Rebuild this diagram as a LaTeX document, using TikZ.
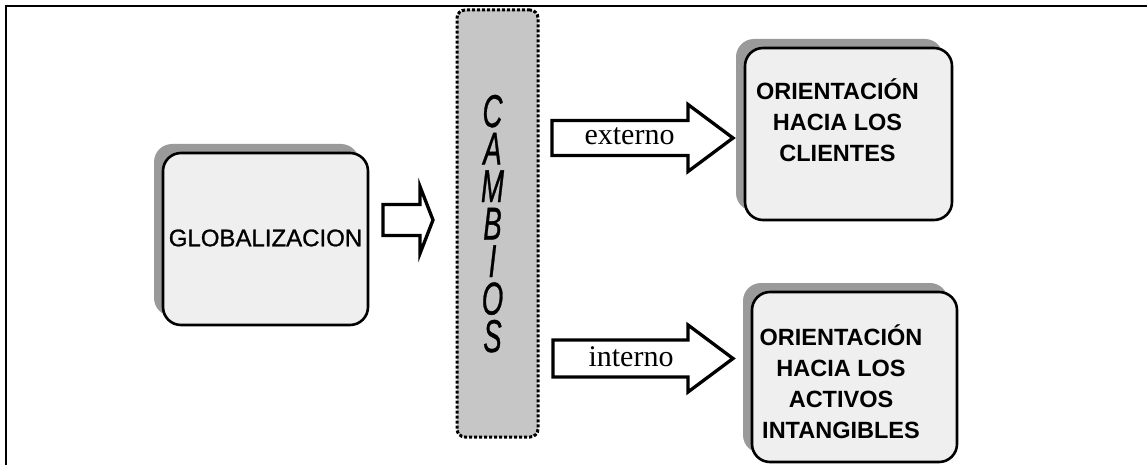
\documentclass[tikz,border=0pt]{standalone}
\usepackage{fontspec}
\setmainfont{Liberation Serif}
\newfontfamily\arialfont{Liberation Sans}
\newfontfamily\arialheavy{Liberation Sans}[FakeBold=1]
\usetikzlibrary{calc,shadows}

\definecolor{panelfill}{HTML}{EFEFEF}
\definecolor{shadowgray}{HTML}{9A9A9A}
\definecolor{bandfill}{HTML}{C6C6C6}

% hollow block arrow: start (body centre), tip, body half height, head half height, head length
\newcommand\blockarrow[5]{%
  \draw[blockarrowline] ($(#1)+(0,-#3)$) -- ($(#2)+(-#5,-#3)$) -- ($(#2)+(-#5,-#4)$)
    -- (#2) -- ($(#2)+(-#5,#4)$) -- ($(#2)+(-#5,#3)$) -- ($(#1)+(0,#3)$) -- cycle;}

\tikzset{
  panel/.style={draw=black, line width=2.6pt, fill=panelfill, rounded corners=18pt,
    general shadow={shadow xshift=-9pt, shadow yshift=9pt, fill=shadowgray}},
  band/.style={draw=black, line width=3pt, dash pattern=on 3.2pt off 1.8pt,
    fill=bandfill, rounded corners=8pt},
  blockarrowline/.style={draw=black, fill=white, line width=3.3pt, line join=miter},
  paneltext/.style={font=\arialfont\bfseries\fontsize{23.5}{31}\selectfont, align=center, inner sep=0pt},
  arrowlabel/.style={font=\fontsize{30}{30}\selectfont, inner sep=0pt},
  letter/.style={font=\arialheavy\itshape\fontsize{46}{46}\selectfont, inner sep=0pt,
    anchor=base, text height=33pt, text depth=0pt},
}

\begin{document}
\begin{tikzpicture}[x=1pt, y=-1pt]
\useasboundingbox (0,0) rectangle (1147,465);

% outer frame (top and left edges)
\draw[line width=2pt] (6,465) -- (6,6) -- (1147,6);

% left panel
\node[panel, minimum width=205pt, minimum height=172pt] (glob) at (265.5,239) {};
\node[font=\arialheavy\fontsize{24}{24}\selectfont, inner sep=0pt] (globtxt) at (265.5,238) {GLOBALIZACION};

% central band with vertical lettering
\node[band, minimum width=81pt, minimum height=427pt] (chg) at (497.5,223.5) {};
\foreach \l [count=\i] in {C,A,M,B,I,O,S}
  \node[letter] (chg\i) at (492.5,{127+37.5*(\i-1)}) {\scalebox{0.6}[1]{\l}};

% right panels
\node[panel, minimum width=207pt, minimum height=172pt] (cli) at (848.5,134) {};
\node[paneltext, anchor=base] (clitxt) at (837.5,161.5) {ORIENTACIÓN\\HACIA LOS\\CLIENTES};

\node[panel, minimum width=205pt, minimum height=170pt] (act) at (854.5,377) {};
\node[paneltext, anchor=base] (acttxt) at (841,438.5)
  {ORIENTACIÓN\\HACIA LOS\\ACTIVOS\\INTANGIBLES};

% block arrows
\coordinate (g0) at (383,220);
\coordinate (g1) at (433,220);
\blockarrow{g0}{g1}{15.5}{33.5}{13}

\coordinate (e0) at (552,138);
\coordinate (e1) at (733,138);
\blockarrow{e0}{e1}{17.5}{33.5}{45}
\node[arrowlabel, anchor=base] (ext) at (629.5,145) {externo};

\coordinate (i0) at (553,358.5);
\coordinate (i1) at (733,358.5);
\blockarrow{i0}{i1}{18.5}{33.5}{45}
\node[arrowlabel, anchor=base] (int) at (631,366.5) {interno};
\end{tikzpicture}
\end{document}
